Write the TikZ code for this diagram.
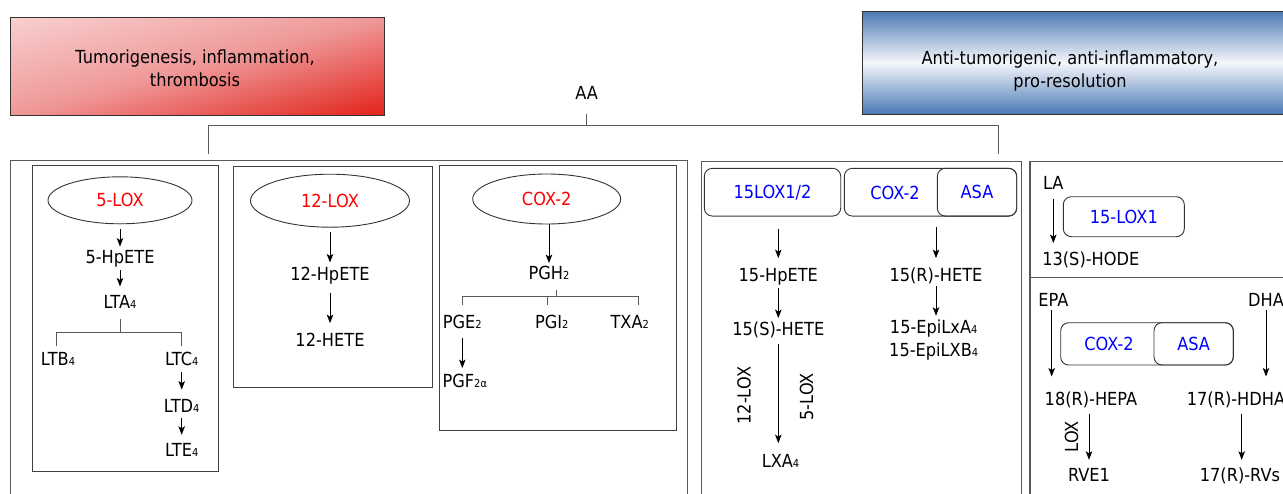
\documentclass[tikz,border=0pt]{standalone}
\usepackage{fontspec}
\setmainfont{DejaVu Sans}[FakeStretch=0.9]
\usetikzlibrary{shapes.geometric,arrows.meta}
\definecolor{redD}{HTML}{E2231B}
\definecolor{redM}{HTML}{EF9898}
\definecolor{redL}{HTML}{F8D0D0}
\definecolor{blueD}{HTML}{4B79B5}
\definecolor{blueL}{HTML}{F5F7FB}
\definecolor{txtblue}{HTML}{0000FF}
\definecolor{txtred}{HTML}{FF0000}
\newcommand{\mysub}[1]{{\fontsize{11}{11}\selectfont #1}}
\begin{document}
\begin{tikzpicture}[x=1pt,y=-1pt,font=\fontsize{18}{23}\selectfont,
  txt/.style={inner sep=0pt,text height=13pt,text depth=4pt},
  enz/.style={ellipse,draw=black!80,line width=0.9pt,inner sep=0pt,text=txtred,text height=13pt,text depth=0pt},
  rbox/.style={draw=black!80,line width=0.9pt,rounded corners=8pt,inner sep=0pt,text=txtblue,text height=13pt,text depth=0pt},
  panel/.style={draw=black!65,line width=1.1pt},
  ibox/.style={draw=black!75,line width=1pt},
  brk/.style={draw=black!65,line width=1pt},
  arr/.style={-{Stealth[length=8.5pt,width=6.5pt,inset=2pt]},line width=0.9pt,black}]
\useasboundingbox (0,0) rectangle (1283,493);
\clip (0,0) rectangle (1283,493);
% banners
\begin{scope}
  \clip (10.7,17) rectangle (384.5,115);
  \shade[transform canvas={rotate around={14.7:(197.6,66)}},top color=redL,bottom color=redD,middle color=redM]
    (-60,-28.9) rectangle (455,160.9);
\end{scope}
\draw[draw=black!80,line width=0.9pt] (10.7,17) rectangle (384.5,115);
\node[align=center,inner sep=0pt] (tumor) at (195,68.5) {Tumorigenesis, inflammation,\\thrombosis};
\shade[top color=blueD,bottom color=blueD,middle color=blueL,draw=black!80,line width=0.9pt] (862.7,11) rectangle (1300,114);
\node[align=center,inner sep=0pt] (anti) at (1070,70.7) {Anti-tumorigenic, anti-inflammatory,\\pro-resolution};
% AA and bracket
\node[txt] (aa) at (586.7,95) {AA};
\draw[brk] ([yshift=-10pt]aa.south) -- ++(0,11.7) coordinate (aaj);
\draw[brk] (208,154) |- (aaj) -| (998,154);
% panels
\draw[panel] (10.7,160.7) rectangle (687.7,510);
\draw[panel] (701.7,161.7) rectangle (1021.7,510);
\draw[panel] (1030,161.7) rectangle (1300,510);
\draw[panel] (1030,277.7) -- (1300,277.7);
% inner boxes
\draw[ibox] (32.3,165.7) rectangle (218.3,471);
\draw[ibox] (233.3,166.7) rectangle (432.7,387.7);
\draw[ibox] (439.3,165.3) rectangle (676.7,430.3);
% --- 5-LOX box
\node[enz,minimum width=144pt,minimum height=47pt] (lox5) at (120,200.3) {5-LOX};
\node[txt] (hpete5) at (120,259.3) {5-HpETE};
\node[txt] (lta4) at (120,304.2) {LTA\mysub{4}};
\node[txt] (ltb4) at (58,360.8) {LTB\mysub{4}};
\node[txt] (ltc4) at (181.7,360.8) {LTC\mysub{4}};
\node[txt] (ltd4) at (181.7,407.8) {LTD\mysub{4}};
\node[txt] (lte4) at (181.7,452.3) {LTE\mysub{4}};
\draw[arr,shorten <=5pt,shorten >=4pt] (lox5.south) -- (hpete5.north);
\draw[arr,shorten <=2pt,shorten >=9pt] (hpete5.south) -- (lta4.north);
\draw[brk] ([yshift=-6.3pt]lta4.south) -- ++(0,13.7) coordinate (ltaj);
\draw[brk] ([xshift=-1.7pt,yshift=6pt]ltb4.north) |- (ltaj) -| ([xshift=-0.7pt,yshift=6pt]ltc4.north);
\draw[arr,shorten <=2.2pt,shorten >=9.5pt] (ltc4.south) -- (ltd4.north);
\draw[arr,shorten <=1.7pt,shorten >=8.8pt] (ltd4.south) -- (lte4.north);
% --- 12-LOX box
\node[enz,minimum width=159pt,minimum height=53pt] (lox12) at (330,200.7) {12-LOX};
\node[txt] (hpete12) at (330,276) {12-HpETE};
\node[txt] (hete12) at (330,342) {12-HETE};
\draw[arr,shorten <=4.5pt,shorten >=4.8pt] (lox12.south) -- (hpete12.north);
\draw[arr,shorten <=8.2pt,shorten >=10.2pt] (hpete12.south) -- (hete12.north);
% --- COX-2 box
\node[enz,minimum width=148pt,minimum height=50pt] (coxE) at (546.7,199) {COX-2};
\node[txt] (pgh2) at (549,275) {PGH\mysub{2}};
\node[txt] (pge2) at (462.3,324.3) {PGE\mysub{2}};
\node[txt] (pgi2) at (551.7,324.3) {PGI\mysub{2}};
\node[txt] (txa2) at (629.7,324.3) {TXA\mysub{2}};
\node[txt] (pgf2a) at (464.8,382.7) {PGF\mysub{2α}};
\draw[arr,shorten >=3.2pt] (coxE.south -| pgh2.north) -- (pgh2.north);
\draw[brk] ([xshift=7pt,yshift=-6.5pt]pgh2.south) -- ++(0,6.7) coordinate (pghj);
\draw[brk] ([yshift=10.8pt]pge2.north) |- (pghj) -| ([xshift=9pt,yshift=10.8pt]txa2.north);
\draw[brk] ([xshift=-4pt,yshift=10.8pt]pgi2.north) -- ([xshift=-4pt]pgi2.north |- pghj);
\draw[arr,shorten <=4.5pt,shorten >=5.9pt] (pge2.south) -- (pge2.south |- pgf2a.north);
% --- middle panel
\node[rbox,minimum width=136.4pt,minimum height=47.7pt] (lox15) at (772.5,192.2) {15LOX1/2};
\node[rbox,minimum width=172.4pt,minimum height=47.7pt] (coxm) at (930.5,192.2) {};
\node[rbox,minimum width=79.4pt,minimum height=47.7pt] (asam) at (977,192.2) {ASA};
\node[txt,text=txtblue] (coxmt) at (895,195) {COX-2};
\node[txt] (hpete15) at (778.3,277.3) {15-HpETE};
\node[txt] (hete15s) at (778.3,330.7) {15(S)-HETE};
\node[txt] (lxa4) at (780.5,462.8) {LXA\mysub{4}};
\node[txt,rotate=90] (l12lab) at (746,395.7) {12-LOX};
\node[txt,rotate=90] (l5lab) at (808.7,396.7) {5-LOX};
\draw[arr,shorten <=12.3pt,shorten >=10.5pt] (lox15.south -| hpete15.north) -- (hpete15.north);
\draw[arr,shorten <=1.5pt,shorten >=3.9pt] (hpete15.south) -- (hete15s.north);
\draw[arr,shorten <=4.1pt,shorten >=11pt] (hete15s.south) -- (hete15s.south |- lxa4.north);
\node[txt] (hete15r) at (936,277.3) {15(R)-HETE};
\node[txt] (epia) at (933.7,329) {15-EpiLxA\mysub{4}};
\node[txt] (epib) at (933.7,351.5) {15-EpiLXB\mysub{4}};
\draw[arr,shorten <=10pt,shorten >=10.5pt] (coxm.south -| hete15r.north) -- (hete15r.north);
\draw[arr,shorten >=4.5pt] (hete15r.south) -- (hete15r.south |- epia.north);
% --- right panel
\node[txt] (la) at (1053.3,185.2) {LA};
\node[txt] (hode13) at (1090.8,260.7) {13(S)-HODE};
\node[rbox,minimum width=121pt,minimum height=40pt] (lox151) at (1123.8,216.7) {15-LOX1};
\draw[arr,shorten <=4.6pt,shorten >=8.9pt] (la.south) -- (la.south |- hode13.north);
\node[txt] (epa) at (1053.3,301.5) {EPA};
\node[txt] (dha) at (1266,301.5) {DHA};
\node[rbox,minimum width=172.6pt,minimum height=42.3pt] (coxr) at (1147,343.85) {};
\node[rbox,minimum width=79.3pt,minimum height=42.3pt] (asar) at (1193.65,343.85) {ASA};
\node[txt,text=txtblue] (coxrt) at (1109,346) {COX-2};
\node[txt] (hepa18) at (1091,401.3) {18(R)-HEPA};
\node[txt] (hdha17) at (1236,401.3) {17(R)-HDHA};
\node[txt] (rve1) at (1089,477) {RVE1};
\node[txt] (rvs17) at (1240,477) {17(R)-RVs};
\node[txt,rotate=90] (loxlab) at (1073.7,436.7) {LOX};
\draw[arr,shorten >=16.1pt] ([xshift=-1.6pt]epa.south) -- ([xshift=-1.6pt]epa.south |- hepa18.north);
\draw[arr,shorten >=16.1pt] (dha.south) -- (dha.south |- hdha17.north);
\draw[arr,shorten <=3.5pt,shorten >=8.5pt] (hepa18.south -| rve1.north) -- (rve1.north);
\draw[arr,shorten <=3.5pt,shorten >=8.5pt] ([xshift=1.7pt]hdha17.south -| rvs17.north) -- ([xshift=1.7pt]rvs17.north);
\end{tikzpicture}
\end{document}
